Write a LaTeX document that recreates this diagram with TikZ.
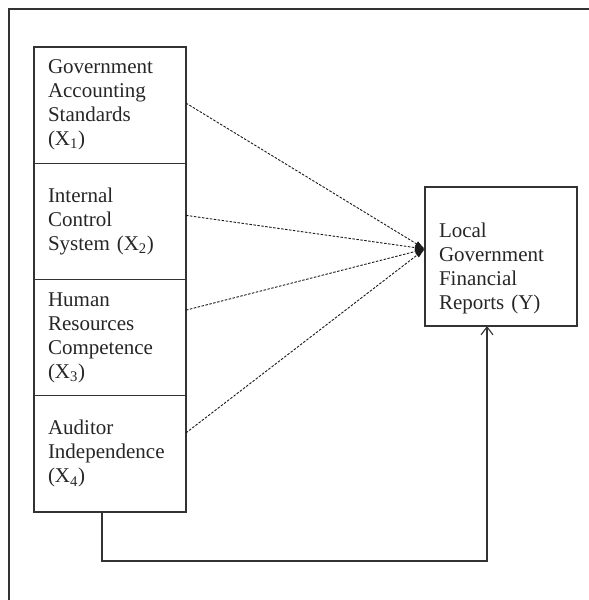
\documentclass[tikz,border=0pt]{standalone}
\usepackage{fontspec}
\setmainfont{Liberation Serif}
\usepackage{xcolor}
\usepackage{tikz}
\usetikzlibrary{positioning,arrows.meta}

\begin{document}
\begin{tikzpicture}[x=1pt, y=1pt, line width=1.1pt, draw=black!85,
    varbox/.style={draw=black!80, rectangle, outer sep=0pt, inner xsep=14pt, text width=124pt,
        minimum height=116.25pt, align=left, font=\fontsize{21}{24}\selectfont, text=black!85},
    effect/.style={draw=black!90, line width=0.9pt, dash pattern=on 2.5pt off 1.5pt,
        -{Latex[length=10pt,width=6pt]}}]
    \useasboundingbox (0,0) rectangle (589,600);
    \draw[black!80] (9,0) -- (9,591) -- (589,591);
    \node[varbox, anchor=north west] (x1) at (34,553) {Government\\Accounting\\Standards\\(X\textsubscript{1})};
    \node[varbox, below=0pt of x1] (x2) {Internal\\Control\\System (X\textsubscript{2})};
    \node[varbox, below=0pt of x2] (x3) {Human\\Resources\\Competence\\(X\textsubscript{3})};
    \node[varbox, below=0pt of x3] (x4) {Auditor\\Independence\\(X\textsubscript{4})};
    \node[varbox, anchor=north west, minimum height=139pt] (y) at (425,413)
        {\rule{0pt}{38pt}Local\\Government\\Financial\\Reports (Y)};
    \coordinate (hub) at ([yshift=7.5pt]y.west);
    \draw[effect] ([yshift=2pt]x1.east) -- (hub);
    \draw[effect] ([yshift=6pt]x2.east) -- (hub);
    \draw[effect] ([yshift=27.5pt]x3.east) -- (hub);
    \draw[effect] ([yshift=21pt]x4.east) -- (hub);
    \coordinate (bend) at ([xshift=-8pt, yshift=-49pt]x4.south);
    \draw[black!80, -{Straight Barb[length=8pt,width=12pt]}] ([xshift=-8pt]x4.south) -- (bend) -| ([xshift=-14pt]y.south);
    \end{tikzpicture}
\end{document}
